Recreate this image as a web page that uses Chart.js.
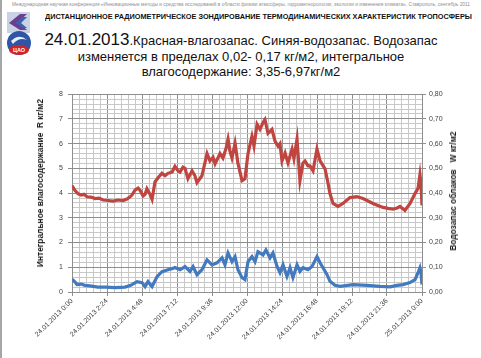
<!DOCTYPE html>
<html lang="ru">
<head>
<meta charset="utf-8">
<script src="https://cdn.jsdelivr.net/npm/chart.js@4.4.1/dist/chart.umd.min.js"></script>
<style>
    html, body { margin: 0; padding: 0; background: #fff; }
    body { width: 481px; height: 358px; position: relative; overflow: hidden; font-family: "Liberation Sans", Arial, sans-serif; }
    #rama { position: absolute; left: 0; top: 0; width: 2px; height: 358px; background: #a6a6a6; }
    #conferencia { position: absolute; left: 12px; top: 2px; font-size: 10px; color: #8f8f8f; white-space: nowrap; transform-origin: left top; }
    #logo { position: absolute; left: 5px; top: 11px; }
    #cabecera { position: absolute; left: 45px; top: 12px; font-size: 10px; font-weight: bold; color: #111; white-space: nowrap; transform-origin: left top; }
    #titulo { position: absolute; left: 0; top: 32px; width: 482px; text-align: center; font-size: 13px; line-height: 15.5px; color: #111; }
    #titulo .fecha { font-size: 17px; }
    .tituloEje { position: absolute; font-size: 8.4px; font-weight: bold; color: #1a1a1a; white-space: pre; transform: translate(-50%, -50%) rotate(-90deg); }
    #grafica { position: absolute; left: 0; top: 85px; width: 481px; height: 273px; }
</style>
</head>
<body>
<div id="rama"></div>
<div id="conferencia">Международная научная конференция «Инновационные методы и средства исследований в области физики атмосферы, гидрометеорологии, экологии и изменения климата», Ставрополь, сентябрь 2011</div>
<svg id="logo" width="28" height="46" viewBox="0 0 28 46">
    <rect x="2" y="1" width="23" height="21" fill="#c9d2e4"/>
    <polygon points="4,12 15,3 22,3 13,11 22,19 15,19" fill="#6b3f8f"/>
    <polygon points="10,12 18,6 22,6 16,12 22,17 18,17" fill="#3d5fae"/>
    <circle cx="14" cy="32" r="12" fill="#2f56a6"/>
    <path d="M6,30 Q14,22 22,29 Q14,26 8,33 Z" fill="#e8edf7"/>
    <ellipse cx="14" cy="39" rx="10" ry="5" fill="#d2232a"/>
    <text x="14" y="41" font-size="5.5" font-family="Liberation Sans, Arial" font-weight="bold" fill="#fff" text-anchor="middle">ЦАО</text>
</svg>
<div id="cabecera">ДИСТАНЦИОННОЕ РАДИОМЕТРИЧЕСКОЕ ЗОНДИРОВАНИЕ ТЕРМОДИНАМИЧЕСКИХ ХАРАКТЕРИСТИК ТРОПОСФЕРЫ</div>
<div id="titulo"><span class="fecha">24.01.2013</span>.Красная-влагозапас. Синяя-водозапас. Водозапас<br>изменяется в пределах 0,02- 0,17 кг/м2, интегральное<br>влагосодержание: 3,35-6,97кг/м2</div>
<div id="grafica"><canvas id="lienzo"></canvas></div>
<div class="tituloEje" style="left:40px; top:183px;">Интегральное влагосодержание  R кг/м2</div>
<div class="tituloEje" style="left:453px; top:191px;">Водозапас облаков   W кг/м2</div>

<script>
// Красная линия: интегральное влагосодержание R (кг/м2), левая ось
const horasR = [0, 0.21, 0.41, 0.62, 0.82, 1.03, 1.30, 1.58, 1.85, 2.13, 2.47, 2.81, 3.15, 3.50, 3.77, 3.98,
    4.11, 4.32, 4.53, 4.66, 4.87, 5.01, 5.14, 5.35, 5.49, 5.69, 5.90, 6.17, 6.38, 6.58, 6.86, 7.06,
    7.27, 7.41, 7.61, 7.75, 7.95, 8.23, 8.43, 8.57, 8.91, 9.26, 9.46, 9.67, 9.81, 10.15, 10.35, 10.56,
    10.70, 10.83, 10.97, 11.18, 11.38, 11.66, 11.86, 12.07, 12.34, 12.48, 12.69, 12.89, 13.10, 13.23,
    13.44, 13.71, 13.92, 14.13, 14.26, 14.40, 14.61, 14.81, 15.09, 15.22, 15.43, 15.63, 15.84, 15.98,
    16.18, 16.32, 16.53, 16.80, 17.01, 17.35, 17.55, 17.69, 17.90, 18.24, 18.58, 19.06, 19.54, 19.95,
    20.30, 20.64, 20.98, 21.33, 21.67, 22.01, 22.29, 22.49, 22.83, 23.18, 23.52, 23.73, 23.86, 23.93, 24.0];
const valoresR = [4.30, 4.10, 3.98, 3.92, 3.95, 3.85, 3.84, 3.78, 3.80, 3.72, 3.70, 3.68, 3.72, 3.70, 3.76, 3.85,
    3.92, 4.12, 4.20, 4.12, 3.88, 3.95, 4.18, 3.95, 3.75, 4.45, 4.62, 4.80, 4.70, 4.80, 4.85, 5.08,
    4.90, 4.85, 5.05, 5.00, 4.58, 4.90, 4.70, 4.42, 4.70, 5.60, 5.30, 5.45, 5.18, 5.60, 5.42, 5.80,
    6.18, 5.70, 5.42, 6.02, 5.20, 4.50, 4.58, 5.60, 6.30, 5.90, 6.78, 6.58, 6.85, 6.97,
    6.42, 6.58, 6.10, 5.90, 6.00, 5.30, 5.62, 5.22, 5.78, 5.40, 6.18, 4.50, 5.22, 5.30,
    5.10, 5.10, 4.90, 5.78, 5.30, 4.98, 4.42, 3.98, 3.58, 3.46, 3.58, 3.82, 3.86, 3.78,
    3.68, 3.58, 3.50, 3.42, 3.38, 3.35, 3.40, 3.46, 3.30, 3.58, 3.98, 4.20, 4.75, 4.40, 3.50];

// Синяя линия: водозапас облаков W (кг/м2), правая ось
const horasW = [0, 0.21, 0.34, 0.62, 0.89, 1.23, 1.78, 2.33, 2.95, 3.63, 3.98, 4.11, 4.46, 4.80, 5.01, 5.21,
    5.49, 5.83, 6.17, 6.58, 6.86, 7.06, 7.41, 7.75, 8.09, 8.30, 8.57, 8.91, 9.26, 9.60, 9.94, 10.29,
    10.49, 10.70, 10.97, 11.18, 11.38, 11.66, 11.86, 12.07, 12.34, 12.55, 12.75, 13.10, 13.30, 13.58,
    13.78, 14.06, 14.26, 14.47, 14.74, 14.95, 15.15, 15.43, 15.63, 15.84, 16.18, 16.46, 16.80, 17.01,
    17.21, 17.49, 17.69, 18.03, 18.38, 19.27, 20.23, 21.12, 21.81, 22.29, 22.70, 23.18, 23.52, 23.73,
    23.86, 23.93, 24.0];
const valoresW = [0.052, 0.040, 0.030, 0.032, 0.027, 0.025, 0.020, 0.020, 0.018, 0.020, 0.026, 0.030, 0.042, 0.038, 0.022, 0.042,
    0.022, 0.062, 0.082, 0.090, 0.094, 0.099, 0.090, 0.103, 0.083, 0.103, 0.070, 0.090, 0.130, 0.110, 0.118, 0.138,
    0.110, 0.158, 0.123, 0.143, 0.090, 0.058, 0.050, 0.123, 0.143, 0.123, 0.163, 0.150, 0.170, 0.138,
    0.158, 0.103, 0.078, 0.110, 0.063, 0.098, 0.058, 0.110, 0.083, 0.098, 0.090, 0.103, 0.143, 0.118,
    0.098, 0.070, 0.043, 0.027, 0.023, 0.030, 0.027, 0.023, 0.021, 0.027, 0.030, 0.038, 0.050, 0.078,
    0.098, 0.080, 0.030];

// Подписи осей
const etiquetasX = ['24.01.2013 0:00', '24.01.2013 2:24', '24.01.2013 4:48', '24.01.2013 7:12', '24.01.2013 9:36',
    '24.01.2013 12:00', '24.01.2013 14:24', '24.01.2013 16:48', '24.01.2013 19:12', '24.01.2013 21:36', '25.01.2013 0:00'];
const etiquetasY = ['0', '1', '2', '3', '4', '5', '6', '7', '8'];
const etiquetasY2 = ['0,00', '0,10', '0,20', '0,30', '0,40', '0,50', '0,60', '0,70', '0,80'];

function ajustarAncho(elemento, ancho) {
    const escala = ancho / elemento.offsetWidth;
    elemento.style.transform = 'scale(' + escala + ')';
}
ajustarAncho(document.getElementById('conferencia'), 458);
ajustarAncho(document.getElementById('cabecera'), 427);

const colorMayor = '#8e8e8e';
const colorMenor = '#c8c8c8';
const fuenteTicks = { family: '"Liberation Sans", Arial, sans-serif', size: 7 };

function rejilla(ctx) {
    return ctx.index % 5 === 0 ? colorMayor : colorMenor;
}

const ctx = document.getElementById('lienzo').getContext('2d');
new Chart(ctx, {
    type: 'line',
    data: {
        datasets: [{
            label: 'R',
            data: horasR.map((h, i) => ({ x: h, y: valoresR[i] })),
            borderColor: '#c0443f',
            borderWidth: 3.2,
            pointRadius: 0,
            tension: 0,
            yAxisID: 'y'
        }, {
            label: 'W',
            data: horasW.map((h, i) => ({ x: h, y: valoresW[i] })),
            borderColor: '#4379bf',
            borderWidth: 3.2,
            pointRadius: 0,
            tension: 0,
            yAxisID: 'y2'
        }]
    },
    options: {
        responsive: true,
        maintainAspectRatio: false,
        animation: false,
        devicePixelRatio: 1,
        layout: { padding: { top: 7, left: 0, right: 0, bottom: 0 } },
        plugins: { legend: { display: false }, tooltip: { enabled: false } },
        scales: {
            x: {
                type: 'linear',
                min: 0,
                max: 24,
                afterBuildTicks: escala => {
                    escala.ticks = Array.from({ length: 51 }, (_, i) => ({ value: i * 0.48 }));
                },
                afterFit: escala => { escala.height = 66; },
                ticks: {
                    autoSkip: false,
                    maxRotation: 45,
                    minRotation: 45,
                    padding: 1,
                    color: '#404040',
                    font: fuenteTicks,
                    callback: (valor, indice) => indice % 5 === 0 ? etiquetasX[indice / 5] : ''
                },
                grid: {
                    color: rejilla,
                    tickColor: c => c.index % 5 === 0 ? colorMayor : 'rgba(0,0,0,0)',
                    tickLength: 4
                },
                border: { color: colorMayor }
            },
            y: {
                position: 'left',
                min: 0,
                max: 8,
                afterBuildTicks: escala => {
                    escala.ticks = Array.from({ length: 41 }, (_, i) => ({ value: i * 0.2 }));
                },
                afterFit: escala => { escala.width = 72; },
                ticks: {
                    autoSkip: false,
                    padding: 5,
                    color: '#404040',
                    font: fuenteTicks,
                    callback: (valor, indice) => indice % 5 === 0 ? etiquetasY[indice / 5] : ''
                },
                grid: {
                    color: rejilla,
                    tickColor: c => c.index % 5 === 0 ? colorMayor : 'rgba(0,0,0,0)',
                    tickLength: 4
                },
                border: { color: colorMayor }
            },
            y2: {
                position: 'right',
                min: 0,
                max: 0.8,
                afterBuildTicks: escala => {
                    escala.ticks = Array.from({ length: 9 }, (_, i) => ({ value: i * 0.1 }));
                },
                afterFit: escala => { escala.width = 59; },
                ticks: {
                    padding: 3,
                    color: '#404040',
                    font: fuenteTicks,
                    callback: (valor, indice) => etiquetasY2[indice]
                },
                grid: {
                    drawOnChartArea: false,
                    color: colorMayor,
                    tickLength: 4
                },
                border: { color: colorMayor }
            }
        }
    }
});
</script>
</body>
</html>
